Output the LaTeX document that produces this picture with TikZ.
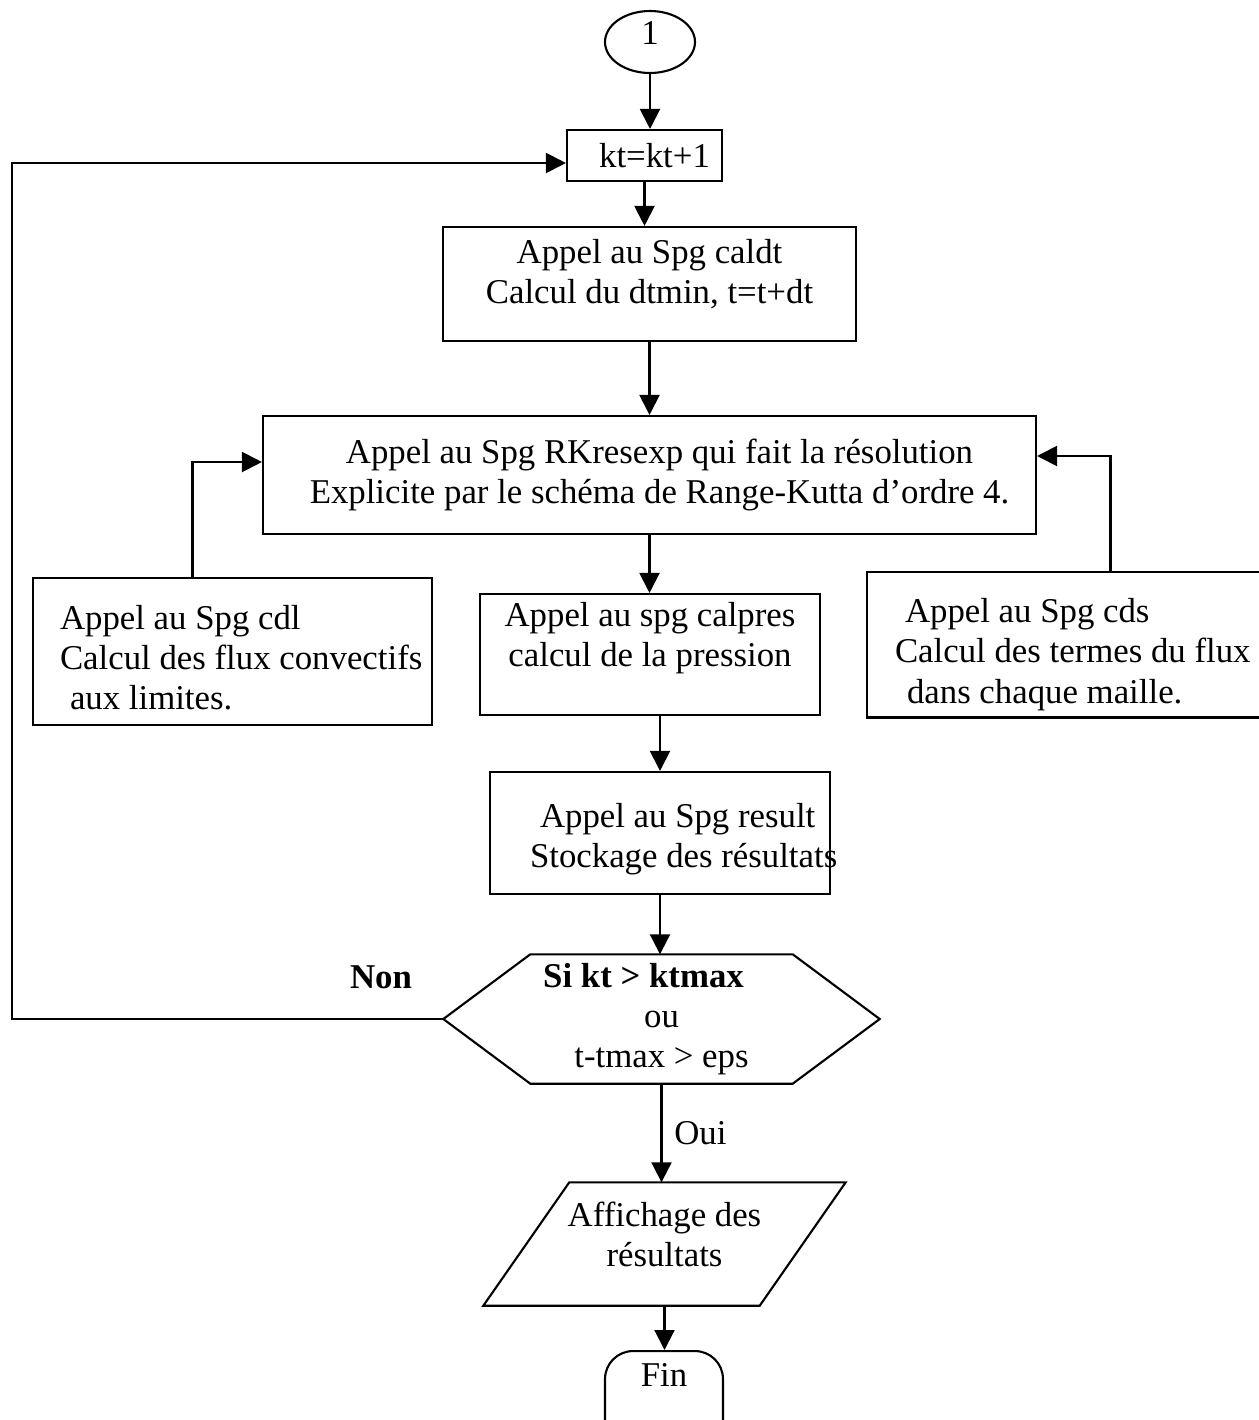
\documentclass[tikz,border=0pt]{standalone}
\usepackage{fontspec}
\setmainfont{Liberation Serif}
\usetikzlibrary{arrows.meta, positioning, shapes.geometric, calc}

\begin{document}
\begin{tikzpicture}[
    box/.style={draw, line width=0.6pt, align=#1, inner sep=2pt},
    box/.default=center,
    arr/.style={-{Triangle[length=2mm, width=2mm]}, line width=0.6pt},
    font=\fontsize{9.9}{11.4}\selectfont,
]
\useasboundingbox (0,0) rectangle (12.58,-14.2);

\node[draw, ellipse, line width=0.6pt, minimum width=0.9cm, minimum height=0.62cm, inner sep=0pt, text depth=0.18cm] (one) at (6.50,-0.42) {1};
\node[box, minimum width=1.55cm, minimum height=0.51cm] (kt) at (6.445,-1.555) {\hspace*{0.2cm}kt=kt+1};
\node[box, minimum width=4.13cm, minimum height=1.14cm] (caldt) at (6.495,-2.84) {Appel au Spg caldt\\Calcul du dtmin, t=t+dt\\[-4.3pt]\mbox{}};
\node[box, minimum width=7.73cm, minimum height=1.18cm] (rk) at (6.495,-4.75) {\hspace*{0.2cm}Appel au Spg RKresexp qui fait la résolution\\\hspace*{0.2cm}Explicite par le schéma de Range-Kutta d’ordre 4.};

% the three calls under RKresexp
\node[box=flush left, minimum width=3.99cm, minimum height=1.47cm, text width=3.45cm] (cdl) at (2.325,-6.515) {\mbox{}\\[-1.1pt]\mbox{Appel au Spg cdl}\\\mbox{Calcul des flux convectifs}\\\mbox{\hspace*{0.1cm}aux limites.}};
\node[box, minimum width=3.40cm, minimum height=1.21cm] (calpres) at (6.50,-6.545) {Appel au spg calpres\\calcul de la pression\\\mbox{}};
\node[box=flush left, minimum width=4.03cm, minimum height=1.45cm, text width=3.47cm] (cds) at (10.685,-6.445) {\mbox{}\\[1.2pt]\mbox{\hspace*{0.1cm}Appel au Spg cds}\\\mbox{Calcul des termes du flux}\\\mbox{\hspace*{0.12cm}dans chaque maille.}};

\node[box=flush left, minimum width=3.40cm, minimum height=1.22cm, text width=2.6cm] (result) at (6.60,-8.33) {\mbox{}\\[-1pt]\mbox{\hspace*{0.1cm}Appel au Spg result}\\\mbox{Stockage des résultats}};

% test node (hexagon)
\node[minimum width=2.61cm, minimum height=1.28cm, align=center, inner sep=0pt] (test) at (6.615,-10.19) {\textbf{Si kt > ktmax}\mbox{\hspace{0.36cm}}\\ou\\t-tmax > eps};
\coordinate (testL) at ($(test.west)+(-0.87,0)$);
\coordinate (testR) at ($(test.east)+(0.87,0)$);
\draw[line width=0.6pt] (test.north west) -- (test.north east) -- (testR) -- (test.south east) -- (test.south west) -- (testL) -- cycle;
\node (non) at (3.81,-9.77) {\bfseries Non};

% output (parallelogram)
\node[minimum width=2.75cm, minimum height=1.22cm, align=center, inner sep=0pt] (aff) at (6.645,-12.44) {Affichage des\\résultats\\[-5.7pt]\mbox{}};
\draw[line width=0.6pt] ([xshift=0.43cm]aff.north west) -- ([xshift=0.43cm]aff.north east) -- ([xshift=-0.43cm]aff.south east) -- ([xshift=-0.43cm]aff.south west) -- cycle;
\node[draw, rounded corners=0.28cm, line width=0.6pt, minimum width=1.18cm, text height=0.24cm, text depth=0.6cm, anchor=north] (fin) at (6.64,-13.5) {Fin};

% connectors
\draw[arr] (one.south) -- (one.south |- kt.north);
\draw[arr] (kt.south) -- (kt.south |- caldt.north);
\draw[arr] (caldt) -- (rk);
\draw[arr] (rk.south) -- (rk.south |- calpres.north);
\draw[arr] ([xshift=-4mm]cdl.north) |- ([yshift=1.3mm]rk.west);
\draw[arr] ([xshift=4.2mm]cds.north) |- ([yshift=1.9mm]rk.east);
\draw[arr] (calpres.south -| result.north) -- (result.north);
\draw[arr] (result.south) -- (result.south |- test.north);
\draw[arr] (test.south) -- (test.south |- aff.north) node[midway, right=0pt] (oui) {Oui};
\draw[arr] (aff.south) -- (aff.south |- fin.north);

% loop back
\coordinate (back) at (0.12,-10.19);
\draw[arr] (testL) -- (back) |- ([yshift=-0.75mm]kt.west);

\end{tikzpicture}
\end{document}
